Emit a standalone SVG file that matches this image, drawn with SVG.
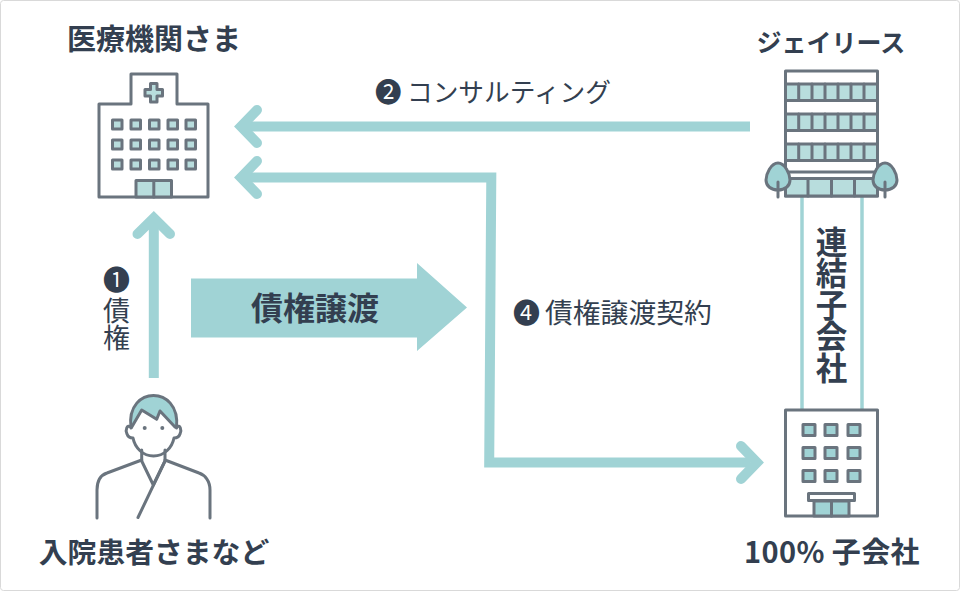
<svg xmlns="http://www.w3.org/2000/svg" width="960" height="591" viewBox="0 0 960 591">
<style>
text{font-family:"Noto Sans CJK JP","Noto Sans",sans-serif;fill:#333f50}
.b{font-weight:700}
.ln{fill:none;stroke:#6a747e;stroke-width:3;stroke-linejoin:round;stroke-linecap:round}
.t{fill:#a0d3d5}
.arr{fill:none;stroke:#a0d3d5;stroke-width:10;stroke-linejoin:miter;stroke-linecap:butt}
.cap{fill:none;stroke:#a0d3d5;stroke-width:10;stroke-linejoin:miter;stroke-linecap:round}
.link{stroke:#a0d3d5;stroke-width:3.500}
.wl{fill:#b8dddd;stroke:#6a747e;stroke-width:3;stroke-linejoin:round}
.wt{fill:#a0d3d5;stroke:#6a747e;stroke-width:3;stroke-linejoin:round}
.wh{fill:#fff;stroke:#6a747e;stroke-width:3;stroke-linejoin:round}
</style>
<rect x="0.5" y="0.5" width="959" height="590" rx="3" fill="#fff" stroke="#d9d9d9"/>

<g id="connectors">
<line class="link" x1="802" y1="196" x2="802" y2="410"/>
<line class="link" x1="862" y1="196" x2="862" y2="410"/>
<path class="arr" d="M750 126.500H245"/>
<path class="cap" d="M257 110L241 126.500L257 143"/>
<path class="arr" d="M245 177.500H491.300L489.200 462.500H750"/>
<path class="cap" d="M257 161L241 177.500L257 194"/>
<path class="cap" d="M741 446L757 462.500L741 479"/>
<path class="arr" d="M153.800 378V222"/>
<path class="cap" d="M137.500 234L153.800 218L170 234"/>
<polygon class="t" points="191,278.500 417,278.500 417,263 467,307.500 417,351 417,337.500 191,337.500"/>
<text class="b" x="315" y="320" font-size="32" text-anchor="middle">債権譲渡</text>
<text x="375" y="102" font-size="26.500">❷<tspan x="407" font-size="25.700">コンサルティング</tspan></text>
<text x="513" y="323" font-size="27">❹<tspan x="545" font-size="27.800">債権譲渡契約</tspan></text>
<text x="116.500" y="266" font-size="27" style="writing-mode:vertical-rl">❶<tspan y="297">債権</tspan></text>
</g>

<g id="hospital">
<path class="wh" d="M99 197V104H131V74H177V104H208V197Z"/>
<path class="wl" d="M150.500 83.500h6.500v6h5.500v6.500h-5.500v6h-6.500v-6h-5.500v-6.500h5.500z"/>
<g id="hospital-windows">
<rect class="wl" x="112.500" y="120" width="9.500" height="9"/><rect class="wl" x="131" y="120" width="9.500" height="9"/><rect class="wl" x="149.500" y="120" width="9.500" height="9"/><rect class="wl" x="168" y="120" width="9.500" height="9"/><rect class="wl" x="186" y="120" width="9.500" height="9"/>
<rect class="wl" x="112.500" y="140" width="9.500" height="9"/><rect class="wl" x="131" y="140" width="9.500" height="9"/><rect class="wl" x="149.500" y="140" width="9.500" height="9"/><rect class="wl" x="168" y="140" width="9.500" height="9"/><rect class="wl" x="186" y="140" width="9.500" height="9"/>
<rect class="wl" x="112.500" y="160" width="9.500" height="9"/><rect class="wl" x="131" y="160" width="9.500" height="9"/><rect class="wl" x="149.500" y="160" width="9.500" height="9"/><rect class="wl" x="168" y="160" width="9.500" height="9"/><rect class="wl" x="186" y="160" width="9.500" height="9"/>
</g>
<path class="wl" d="M136 197V180.500H171.500V197Z"/>
<path class="ln" d="M153.800 180.500V197"/>
<text class="b" x="154" y="50" font-size="29" text-anchor="middle">医療機関さま</text>
</g>

<g id="jlease">
<rect class="wh" x="785.500" y="71" width="92" height="125"/>
<rect class="wl" x="785.500" y="84" width="92" height="16.500"/>
<rect class="wl" x="785.500" y="114" width="92" height="16.500"/>
<rect class="wl" x="785.500" y="144" width="92" height="16.500"/>
<path class="ln" d="M798.700 84v16.500M812 84v16.500M825 84v16.500M838 84v16.500M851 84v16.500M864 84v16.500M798.700 114v16.500M812 114v16.500M825 114v16.500M838 114v16.500M851 114v16.500M864 114v16.500M798.700 144v16.500M812 144v16.500M825 144v16.500M838 144v16.500M851 144v16.500M864 144v16.500"/>
<path class="ln" d="M785.500 172H877.500"/>
<rect class="wl" x="785.500" y="178.500" width="92" height="17.500"/>
<path class="ln" d="M808 178.500V196M831.500 178.500V196M854.500 178.500V196"/>
<path class="wt" d="M778 163C771 163 766 174 766 180C766 186 771 190 778 190C785 190 790 186 790 180C790 174 785 163 778 163Z"/>
<path class="ln" d="M778 182V197"/>
<path class="wt" d="M885 163C878 163 873 174 873 180C873 186 878 190 885 190C892 190 897 186 897 180C897 174 892 163 885 163Z"/>
<path class="ln" d="M885 182V197"/>
<text class="b" x="831" y="52" font-size="25" text-anchor="middle">ジェイリース</text>
</g>

<g id="subsidiary">
<rect class="wh" x="785.500" y="410" width="92" height="106"/>
<g id="subsidiary-windows">
<rect class="wt" x="803" y="424.500" width="12" height="11"/><rect class="wt" x="825" y="424.500" width="12" height="11"/><rect class="wt" x="848" y="424.500" width="12" height="11"/>
<rect class="wt" x="803" y="447.500" width="12" height="11"/><rect class="wt" x="825" y="447.500" width="12" height="11"/><rect class="wt" x="848" y="447.500" width="12" height="11"/>
<rect class="wt" x="803" y="470.500" width="12" height="11"/><rect class="wt" x="825" y="470.500" width="12" height="11"/><rect class="wt" x="848" y="470.500" width="12" height="11"/>
</g>
<rect class="wt" x="814" y="501" width="35" height="15"/>
<path class="ln" d="M831.500 501V516"/>
<rect class="wh" x="808.500" y="493.500" width="46" height="7"/>
<text class="b" x="832" y="563" font-size="29" letter-spacing="0.400" text-anchor="middle">100% 子会社</text>
</g>

<g id="consolidated">
<text class="b" x="831.500" y="226" font-size="31.500" style="writing-mode:vertical-rl">連結子会社</text>
</g>

<g id="patient">
<path class="t" d="M131 428C128 405 142 395.500 153.500 395.500C165 395.500 179 405 176.500 428L160 411L156.700 419.300L141.700 410Z"/>
<path class="ln" d="M131 428C128 405 142 395.500 153.500 395.500C165 395.500 179 405 176.500 428"/>
<path class="ln" d="M131.500 427.500L141.700 410L156.700 419.300L160 411L175 427"/>
<path class="ln" d="M131 427C127 424 125 430 127 434C128 437 130 438 133 438C135 448 143 456 153.500 456C164 456 172 448 174 438C177 438 179 437 180 434C182 430 180 424 176.500 427"/>
<circle cx="144.700" cy="428" r="2" fill="#6a747e"/>
<circle cx="162.300" cy="428" r="2" fill="#6a747e"/>
<path class="ln" d="M141.700 450V461L153.300 485L165 461V450"/>
<path class="ln" d="M141.700 460L107 473C101 475 97 481 97 490V518M165 461L138 517.500M165 460L199 473C205 475 210 481 210 490V518"/>
<text class="b" x="154" y="563" font-size="28.800" text-anchor="middle">入院患者さまなど</text>
</g>
</svg>
